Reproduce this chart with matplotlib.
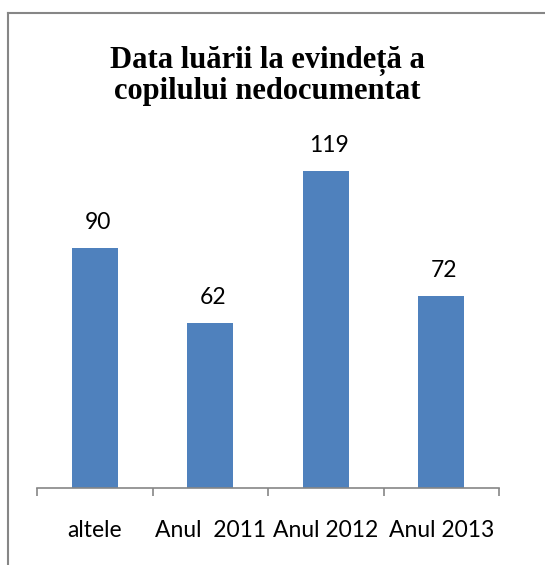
import matplotlib.pyplot as plt
import numpy as np
from matplotlib.lines import Line2D

# data
categories = ['altele', 'Anul  2011', 'Anul 2012', 'Anul 2013']
values = [90, 62, 119, 72]

title = 'Data luării la evindeță a\ncopilului nedocumentat'

bar_color = '#4F81BD'
axis_color = '#868686'

fig = plt.figure(figsize=(5.45, 5.65), dpi=100)
ax = fig.add_axes([37 / 545, 77 / 565, 462 / 545, 373 / 565])

x = np.arange(len(categories))
bars = ax.bar(x, values, width=0.4, color=bar_color, zorder=2)

# value labels above bars
for xi, v in zip(x, values):
    ax.annotate(str(v), (xi, v), xytext=(2, 13.7), textcoords='offset points',
                ha='center', va='baseline', fontsize=16.5, family='Lato')

ax.set_xlim(-0.5, len(categories) - 0.5)
ax.set_ylim(0, 140)

# boundary ticks, labels at centres
ax.set_xticks(np.arange(len(categories) + 1) - 0.5)
ax.set_xticklabels([])
ax.set_xticks(x, minor=True)
ax.set_xticklabels(categories, minor=True, fontsize=16.5, family='Lato')
ax.tick_params(axis='x', which='major', direction='out', length=5.8,
               width=1.2, color=axis_color)
ax.tick_params(axis='x', which='minor', length=0, pad=23)
ax.set_yticks([])

for side in ['top', 'right', 'left']:
    ax.spines[side].set_visible(False)
ax.spines['bottom'].set_color(axis_color)
ax.spines['bottom'].set_linewidth(1.2)

fig.text(267 / 545, 1 - 76 / 565, title, ha='center', va='center',
         fontsize=22, fontweight='bold', family='Liberation Serif',
         linespacing=1.05)

# chart border (only top and left visible in the crop)
fig.add_artist(Line2D([8 / 545, 8 / 545], [0, 1 - 13 / 565],
                      color=axis_color, lw=1.5, transform=fig.transFigure))
fig.add_artist(Line2D([8 / 545, 1], [1 - 13 / 565, 1 - 13 / 565],
                      color=axis_color, lw=1.5, transform=fig.transFigure))

fig.savefig('out.png', dpi=100)
